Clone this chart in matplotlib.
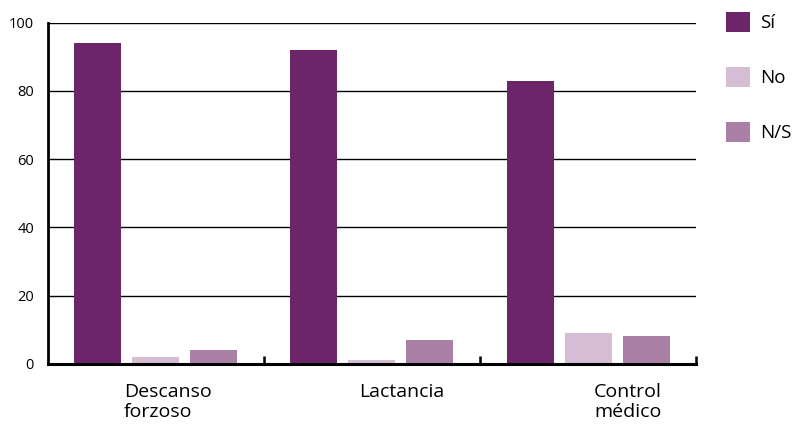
import numpy as np
import matplotlib as mpl
mpl.use("Agg")
import matplotlib.pyplot as plt
from matplotlib.patches import Patch

plt.rcParams['font.family'] = ['Open Sans', 'DejaVu Sans']

# datos
categorias = ["Descanso\nforzoso", "Lactancia", "Control\nmédico"]
series = ["Sí", "No", "N/S"]
si = [94, 92, 83]
no = [2, 1, 9]
ns = [4, 7, 8]
colores = ["#6c2568", "#d5bdd4", "#ab80a7"]

fig = plt.figure(figsize=(7.93, 4.24), dpi=100)
ax = fig.add_axes([0.0605, 0.1422, 0.8172, 0.8043])

x = np.arange(len(categorias)) + 0.5
ancho = 0.2176
paso = 0.2685
for k, (vals, col) in enumerate(zip([si, no, ns], colores)):
    ax.bar(x + (k - 1) * paso, vals, width=ancho, color=col, zorder=3, label=series[k])

ax.set_xlim(0, len(categorias))
ax.set_ylim(0, 100)
ax.set_yticks([0, 20, 40, 60, 80, 100])
ax.yaxis.grid(True, color='black', linewidth=1.0, zorder=0)
ax.set_axisbelow(True)
ax.tick_params(axis='y', length=0, pad=10, labelsize=10.5)

# marcas del eje x entre grupos
ax.set_xticks([1, 2, 3])
ax.set_xticklabels([])
ax.tick_params(axis='x', direction='in', length=6, width=1.8, color='black')

for s in ['top', 'right']:
    ax.spines[s].set_visible(False)
ax.spines['left'].set_linewidth(2)
ax.spines['bottom'].set_linewidth(2.2)
ax.spines['bottom'].set_zorder(4)

# etiquetas de categoría, alineadas a la izquierda
desplaz = [0.352, 0.44, 0.528]
for i, (cat, d) in enumerate(zip(categorias, desplaz)):
    ax.annotate(cat, xy=(i + d, 0), xycoords=('data', 'axes fraction'),
                xytext=(0, -14), textcoords='offset points',
                ha='left', va='top', fontsize=14, linespacing=1.12)

handles = [Patch(facecolor=c, edgecolor='none') for c in colores]
fig.legend(handles, series, loc='upper left', bbox_to_anchor=(0.916, 0.972),
           frameon=False, fontsize=13.5, handlelength=1.28, handleheight=1.28,
           handletextpad=0.5, labelspacing=1.85, borderpad=0, borderaxespad=0)

fig.savefig("out.png", dpi=100)
